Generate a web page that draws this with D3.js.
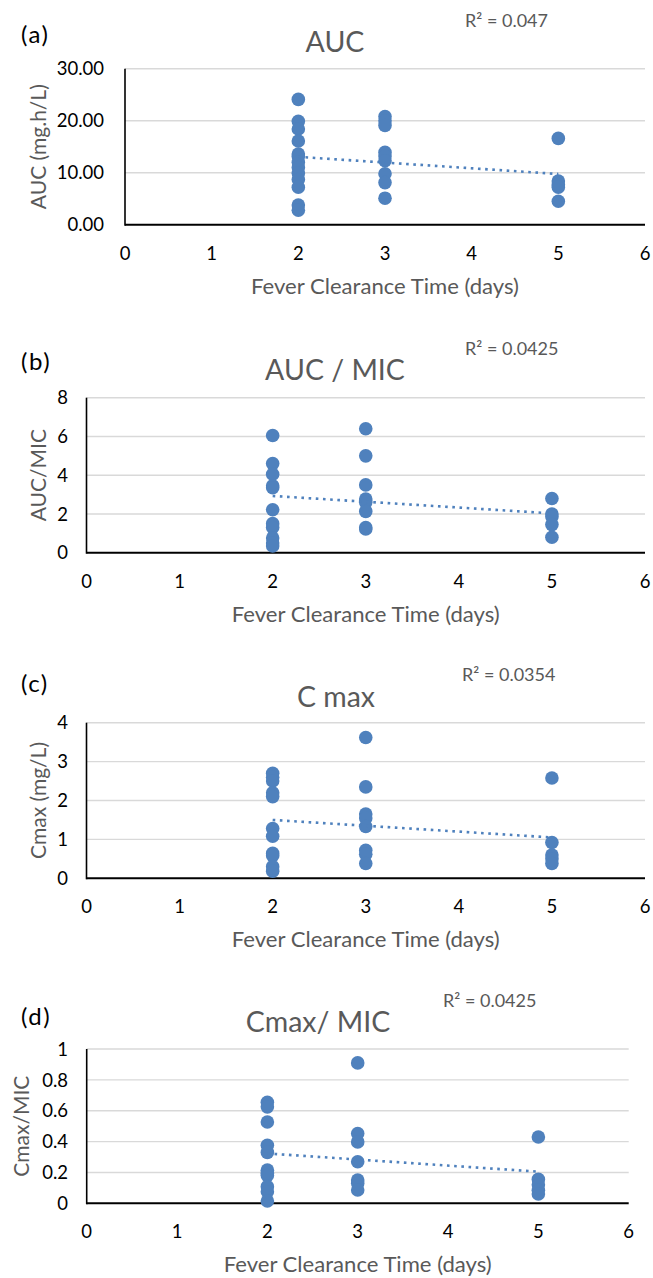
<!DOCTYPE html>
<html><head><meta charset="utf-8">
<script src="https://cdn.jsdelivr.net/npm/d3@7"></script>
<style>body{margin:0;background:#fff}svg{display:block}text{font-family:Lato,"Open Sans",sans-serif}</style>
</head><body>
<svg id="chart" width="653" height="1278"></svg>
<script>
// ---- data ----
const xTicks = [0, 1, 2, 3, 4, 5, 6];
const xLabel = "Fever Clearance Time (days)";
const panelLetters = ["(a)", "(b)", "(c)", "(d)"];
const panelTitles = ["AUC", "AUC / MIC", "C max", "Cmax/ MIC"];
const yTitles = ["AUC (mg.h/L)", "AUC/MIC", "Cmax (mg/L)", "Cmax/MIC"];
const r2Labels = ["R² = 0.047", "R² = 0.0425", "R² = 0.0354", "R² = 0.0425"];

const ticksA = [0, 10, 20, 30];
const ticksB = [0, 2, 4, 6, 8];
const ticksC = [0, 1, 2, 3, 4];
const ticksD = [0, 0.2, 0.4, 0.6, 0.8, 1];

const aucDay2 = [24.1, 19.9, 18.4, 16.1, 13.6, 13.1, 12.0, 11.0, 9.9, 8.7, 7.2, 3.8, 2.8];
const aucDay3 = [20.8, 20.0, 19.1, 13.9, 13.2, 12.3, 9.8, 8.1, 5.1];
const aucDay5 = [16.6, 8.4, 7.7, 7.2, 4.5];

const aucMicDay2 = [6.05, 4.6, 4.05, 3.45, 3.35, 2.22, 1.5, 1.3, 0.76, 0.5, 0.35];
const aucMicDay3 = [6.4, 5.0, 3.5, 2.77, 2.6, 2.13, 1.3, 1.22];
const aucMicDay5 = [2.8, 2.0, 1.85, 1.45, 0.8];

const cmaxDay2 = [2.7, 2.6, 2.5, 2.2, 2.1, 1.28, 1.08, 0.64, 0.58, 0.3, 0.18];
const cmaxDay3 = [3.62, 2.35, 1.65, 1.55, 1.33, 0.72, 0.62, 0.38];
const cmaxDay5 = [2.58, 0.92, 0.6, 0.5, 0.38];

const cmaxMicDay2 = [0.655, 0.625, 0.527, 0.376, 0.33, 0.215, 0.195, 0.18, 0.108, 0.075, 0.015];
const cmaxMicDay3 = [0.91, 0.452, 0.398, 0.269, 0.151, 0.13, 0.086];
const cmaxMicDay5 = [0.43, 0.155, 0.12, 0.085, 0.06];

// linear trendline values at x = 2 and x = 5
const trendX = [2, 5];
const trendA = [13.05, 9.75];
const trendB = [2.93, 2.03];
const trendC = [1.50, 1.05];
const trendD = [0.323, 0.205];

// ---- drawing ----
const svg = d3.select("#chart");
const BLUE = "#4f81bd", GRAY = "#595959";

function pts(d2, d3, d5) {
  return [...d2.map(v => [2, v]), ...d3.map(v => [3, v]), ...d5.map(v => [5, v])];
}

const panels = [
  {data: pts(aucDay2, aucDay3, aucDay5), ticks: ticksA, fmt: d3.format(".2f"), trend: trendA,
   L: 125, R: 645, T: 68.7, B: 224.7, titleY: 52, titleX: 335, r2X: 465, r2Y: 27, letterY: 43,
   ytX: 38, tickRight: 104},
  {data: pts(aucMicDay2, aucMicDay3, aucMicDay5), ticks: ticksB, fmt: d3.format("d"), trend: trendB,
   L: 86.5, R: 645, T: 397.7, B: 552.7, titleY: 380, titleX: 335, r2X: 465, r2Y: 355, letterY: 370,
   ytX: 38, tickRight: 68},
  {data: pts(cmaxDay2, cmaxDay3, cmaxDay5), ticks: ticksC, fmt: d3.format("d"), trend: trendC,
   L: 86.5, R: 645, T: 722.7, B: 878.3, titleY: 707, titleX: 336, r2X: 462, r2Y: 681, letterY: 692,
   ytX: 38, tickRight: 68},
  {data: pts(cmaxMicDay2, cmaxMicDay3, cmaxMicDay5), ticks: ticksD, fmt: d => String(+d.toFixed(1)), trend: trendD,
   L: 86.7, R: 628.7, T: 1049, B: 1203.3, titleY: 1031.7, titleX: 318, r2X: 443, r2Y: 1007, letterY: 1025,
   ytX: 21, tickRight: 68}
];

panels.forEach((p, i) => {
  const g = svg.append("g");
  const x = d3.scaleLinear().domain([0, 6]).range([p.L, p.R]);
  const y = d3.scaleLinear().domain([p.ticks[0], p.ticks[p.ticks.length - 1]]).range([p.B, p.T]);

  // gridlines
  g.selectAll("line.grid").data(p.ticks.slice(1)).join("line")
    .attr("x1", p.L).attr("x2", p.R).attr("y1", d => y(d)).attr("y2", d => y(d))
    .attr("stroke", "#d9d9d9").attr("stroke-width", 1.4);

  // y tick labels
  g.selectAll("text.yt").data(p.ticks).join("text")
    .attr("x", p.tickRight).attr("y", d => y(d)).attr("dy", "0.36em")
    .attr("text-anchor", "end").attr("font-size", 18.5).attr("fill", "#000")
    .text(p.fmt);

  // x tick labels
  g.selectAll("text.xt").data(xTicks).join("text")
    .attr("x", d => x(d)).attr("y", p.B + 35)
    .attr("text-anchor", "middle").attr("font-size", 18.5).attr("fill", "#000")
    .text(d => d);

  // axis lines
  g.append("line").attr("x1", p.L).attr("x2", p.R).attr("y1", p.B).attr("y2", p.B)
    .attr("stroke", "#000").attr("stroke-width", 2);
  g.append("line").attr("x1", p.L).attr("x2", p.L).attr("y1", p.T).attr("y2", p.B + 1)
    .attr("stroke", "#000").attr("stroke-width", 1.6);

  // points
  g.selectAll("circle").data(p.data).join("circle")
    .attr("cx", d => x(d[0])).attr("cy", d => y(d[1])).attr("r", 6.8)
    .attr("fill", BLUE);

  // trendline
  g.append("path")
    .attr("d", d3.line().x(d => x(d[0])).y(d => y(d[1]))(trendX.map((t, k) => [t, p.trend[k]])))
    .attr("stroke", BLUE).attr("stroke-width", 2.6).attr("fill", "none")
    .attr("stroke-dasharray", "2.6,4.6");

  // texts
  g.append("text").attr("x", p.titleX).attr("y", p.titleY).attr("text-anchor", "middle")
    .attr("font-size", 28.5).attr("fill", GRAY).text(panelTitles[i]);
  g.append("text").attr("x", p.r2X).attr("y", p.r2Y)
    .attr("font-size", 18).attr("fill", GRAY).text(r2Labels[i]);
  g.append("text").attr("x", 21).attr("y", p.letterY)
    .attr("font-size", 24).attr("letter-spacing", 1.5).attr("fill", "#000").text(panelLetters[i]);
  g.append("text").attr("x", (p.L + p.R) / 2).attr("y", p.B + 69).attr("text-anchor", "middle")
    .attr("font-size", 21).attr("textLength", 268).attr("lengthAdjust", "spacingAndGlyphs")
    .attr("fill", GRAY).text(xLabel);
  g.append("text")
    .attr("transform", `translate(${p.ytX},${(p.T + p.B) / 2}) rotate(-90)`)
    .attr("text-anchor", "middle").attr("dy", "0.36em")
    .attr("font-size", 21).attr("fill", GRAY).text(yTitles[i]);
});
</script>
</body></html>
